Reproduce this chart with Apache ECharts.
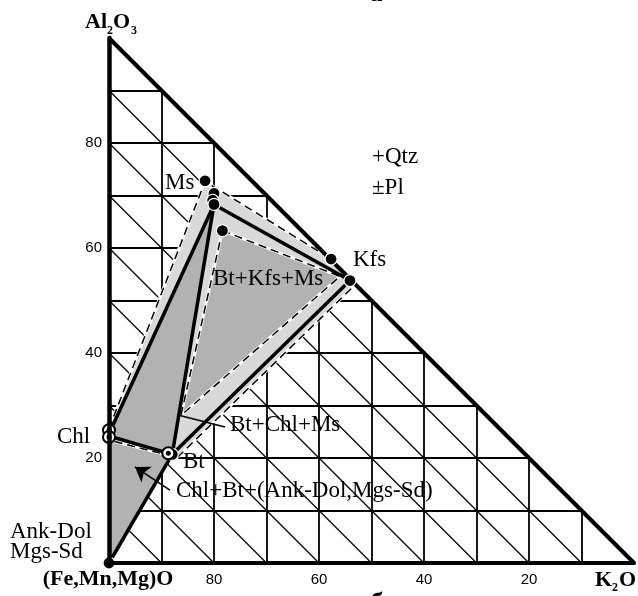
<!DOCTYPE html>
<html><head><meta charset="utf-8">
<script src="https://cdn.jsdelivr.net/npm/echarts@6/dist/echarts.min.js"></script>
<style>html,body{margin:0;padding:0;background:#fff}#c{width:638px;height:596px}</style>
</head><body><div id="c"></div>
<script>
// Data coordinates: [K2O %, Al2O3 %];  (Fe,Mn,Mg)O = 100 - K2O - Al2O3
const gridSteps   = [10,20,30,40,50,60,70,80,90];
const leftTicks   = [20,40,60,80];          // Al2O3
const bottomTicks = [80,60,40,20];          // (Fe,Mn,Mg)O
const triangle    = [[0,100],[100,0]];      // hypotenuse (K2O + Al2O3 = 100)

const lightField = [[0,23.4],[0,25.6],[18.3,72.7],[42.3,57.9],[47.0,53.1],[13.0,20.1]];
const darkChlMsBt   = [[0,24.6],[20.0,68.3],[12.05,20.7]];
const darkBtKfsMs   = [[21.6,63.3],[44.0,54.6],[13.7,28.1]];
const darkChlBtCarb = [[0,0],[0,24.2],[12.05,20.7]];

const tieLines = [
  [[0,24.6],[20.0,68.3]],
  [[20.0,68.3],[45.9,53.8]],
  [[45.9,53.8],[12.05,20.7]],
  [[12.05,20.7],[20.0,68.3]],
  [[12.05,20.7],[0,24.2]],
  [[0,0],[12.05,20.7]]
];
const outerDashed = [[0,25.6],[18.3,72.7],[42.3,57.9],[47.0,53.1],[13.0,20.1],[0,23.4]];
const innerDashed = [[21.6,63.3],[44.0,54.6],[13.7,28.1],[21.6,63.3]];

const filledPts = [[18.3,72.8],[20.0,70.4],[19.75,69.1],[20.0,68.3],[21.6,63.3],[42.3,57.9],[45.9,53.8],[12.05,20.7],[0,0]];
const ringPts   = [[0,25.3],[0,24.0],[11.3,20.9]];
const leader    = [[13.5,28.1],[22.1,25.9]];
const arrow     = [[11.6,13.9],[4.95,18.3]];

const rectSegs = [], diagSegs = [];
gridSteps.forEach(v => {
  rectSegs.push({coords:[[v,0],[v,100-v]]});
  rectSegs.push({coords:[[0,v],[100-v,v]]});
  diagSegs.push({coords:[[0,v],[v,0]]});
});

function polySeries(poly, fill, z){
  return {type:'custom', coordinateSystem:'cartesian2d', z, silent:true, data:[[0,0]],
    renderItem:(params, api) => ({type:'polygon', shape:{points: poly.map(p => api.coord(p))}, style:{fill, stroke:null}})};
}
function dashed(pts, z){
  return [
    {type:'line', data:pts, symbol:'none', z, silent:true, lineStyle:{color:'#fff', width:3}},
    {type:'line', data:pts, symbol:'none', z:z+0.1, silent:true, lineStyle:{color:'#000', width:1.5, type:[8,5]}}
  ];
}
const SERIF = '"Liberation Serif","Times New Roman",serif';
function T(text, x, y, font, align, va){
  return {type:'text', x, y, z:100, style:{text, font, fill:'#000', align, verticalAlign:va, textAlign:align, textVerticalAlign:va}};
}
const F = '23px ' + SERIF, B = 'bold 22px ' + SERIF, BS = 'bold 12px ' + SERIF;

const chart = echarts.init(document.getElementById('c'), null, {renderer:'canvas'});
chart.setOption({
  animation:false,
  backgroundColor:'#fff',
  grid:{left:109, top:38, width:525, height:525},
  xAxis:{type:'value', min:0, max:100, interval:20, z:10,
    axisLine:{show:true, lineStyle:{color:'#000', width:4}},
    axisTick:{show:false}, splitLine:{show:false},
    axisLabel:{margin:9, color:'#000', fontSize:15, fontFamily:'"Liberation Sans",Arial,sans-serif',
      formatter: v => bottomTicks.includes(100 - v) ? String(100 - v) : ''}},
  yAxis:{type:'value', min:0, max:100, interval:20, z:10,
    axisLine:{show:true, lineStyle:{color:'#000', width:4.5}},
    axisTick:{show:false}, splitLine:{show:false},
    axisLabel:{margin:7, color:'#000', fontSize:15, fontFamily:'"Liberation Sans",Arial,sans-serif',
      formatter: v => leftTicks.includes(v) ? String(v) : ''}},
  series:[
    {type:'lines', coordinateSystem:'cartesian2d', z:1, silent:true, data:rectSegs,
      lineStyle:{color:'#000', width:1.8, opacity:1}},
    {type:'lines', coordinateSystem:'cartesian2d', z:1, silent:true, data:diagSegs,
      lineStyle:{color:'#000', width:1.2, opacity:1}},
    polySeries(lightField, '#d9d9d9', 2),
    polySeries(darkChlMsBt, '#b2b2b2', 3),
    polySeries(darkBtKfsMs, '#b2b2b2', 3),
    polySeries(darkChlBtCarb, '#b2b2b2', 3),
    ...dashed(outerDashed, 4),
    ...dashed(innerDashed, 4),
    {type:'lines', coordinateSystem:'cartesian2d', z:5, silent:true,
      data: tieLines.map(c => ({coords:c})), lineStyle:{color:'#000', width:3.5, opacity:1}},
    {type:'lines', coordinateSystem:'cartesian2d', z:5, silent:true,
      data:[{coords:leader}], lineStyle:{color:'#000', width:1.5, opacity:1}},
    {type:'lines', coordinateSystem:'cartesian2d', z:5, silent:true,
      symbol:['none','arrow'], symbolSize:14,
      data:[{coords:arrow}], lineStyle:{color:'#000', width:1.5, opacity:1}},
    {type:'lines', coordinateSystem:'cartesian2d', z:6, silent:true,
      data:[{coords:triangle}], lineStyle:{color:'#000', width:4, opacity:1}},
    {type:'scatter', z:7, silent:true, data:filledPts, symbol:'circle', symbolSize:12,
      itemStyle:{color:'#000', borderColor:'#fff', borderWidth:1.2, opacity:1}},
    {type:'scatter', z:7, silent:true, data:ringPts, symbol:'circle', symbolSize:12,
      itemStyle:{color:'#fff', borderColor:'#000', borderWidth:2, opacity:1}},
    {type:'scatter', z:8, silent:true, data:ringPts, symbol:'circle', symbolSize:5,
      itemStyle:{color:'#000', opacity:1}}
  ],
  graphic:[
    T('Al', 85, 22, B, 'left', 'middle'),
    T('2', 107, 31, BS, 'left', 'middle'),
    T('O', 113, 22, B, 'left', 'middle'),
    T('3', 131, 31, BS, 'left', 'middle'),
    T('(Fe,Mn,Mg)O', 108, 579, B, 'center', 'middle'),
    T('K', 595, 580, B, 'left', 'middle'),
    T('2', 612, 588, BS, 'left', 'middle'),
    T('O', 619, 580, B, 'left', 'middle'),
    T('Ms', 165, 183, F, 'left', 'middle'),
    T('Kfs', 353, 260, F, 'left', 'middle'),
    T('+Qtz', 372, 157, F, 'left', 'middle'),
    T('\u00b1Pl', 372, 188, F, 'left', 'middle'),
    T('Bt+Kfs+Ms', 213, 279, F, 'left', 'middle'),
    T('Bt+Chl+Ms', 230, 425, F, 'left', 'middle'),
    T('Chl', 57, 437, F, 'left', 'middle'),
    T('Bt', 183, 462, F, 'left', 'middle'),
    T('Chl+Bt+(Ank-Dol,Mgs-Sd)', 176, 491, F, 'left', 'middle'),
    T('Ank-Dol', 10, 532, F, 'left', 'middle'),
    T('Mgs-Sd', 10, 552, F, 'left', 'middle'),
    T('\u0430', 376, -6, 'bold 26px ' + SERIF, 'center', 'middle'),
    T('\u0431', 377, 603, 'bold 26px ' + SERIF, 'center', 'middle')
  ]
});
</script></body></html>
